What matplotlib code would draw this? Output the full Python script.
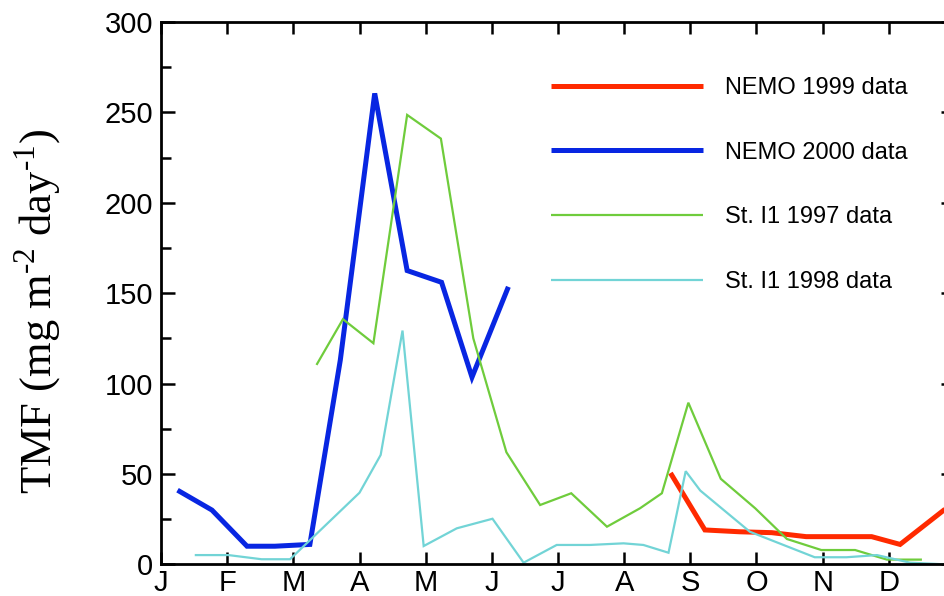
import matplotlib
matplotlib.use("Agg")
import matplotlib.pyplot as plt
from matplotlib.ticker import MultipleLocator

plt.rcParams["mathtext.fontset"] = "custom"
plt.rcParams["mathtext.rm"] = "Liberation Serif"

# Month axis: 0 = start of January, 12 = end of December
month_labels = ["J", "F", "M", "A", "M", "J", "J", "A", "S", "O", "N", "D", ""]

# NEMO 1999 trap data (Aug-Dec)
nemo99_t = [7.70, 8.22, 8.74, 9.23, 9.75, 10.25, 10.74, 11.17, 11.85]
nemo99_v = [50.5, 19.0, 18.0, 17.5, 15.3, 15.3, 15.3, 11.0, 30.5]

# NEMO 2000 trap data (Jan-Jun)
nemo00_t = [0.25, 0.77, 1.30, 1.72, 2.25, 2.71, 3.23, 3.72, 4.24, 4.70, 5.25]
nemo00_v = [41.0, 30.0, 10.0, 10.0, 11.0, 113.0, 260.5, 162.5, 156.0, 103.5, 153.5]

# Station I1, 1997
st97_t = [2.35, 2.75, 3.21, 3.72, 4.23, 4.72, 5.22, 5.73, 6.20, 6.74,
          7.24, 7.57, 7.97, 8.46, 8.98, 9.46, 9.98, 10.49, 10.97, 11.50]
st97_v = [110.3, 135.6, 122.3, 248.6, 235.5, 125.0, 62.0, 32.8, 39.3, 20.8,
          31.0, 39.3, 89.4, 47.3, 31.0, 14.0, 7.9, 7.9, 2.6, 2.6]

# Station I1, 1998
st98_t = [0.51, 1.02, 1.52, 1.95, 3.00, 3.32, 3.65, 3.97, 4.47, 5.01, 5.48, 5.98,
          6.48, 6.99, 7.29, 7.67, 7.93, 8.15, 8.90, 9.88, 10.36, 10.82, 11.32, 11.83]
st98_v = [5.1, 5.1, 2.8, 2.8, 39.6, 60.5, 129.3, 10.1, 19.9, 25.2, 0.9, 10.7,
          10.7, 11.6, 10.7, 6.4, 51.5, 40.8, 18.0, 3.9, 3.9, 5.1, 0.9, 0.0]

RED = "#ff2a00"
BLUE = "#0826e2"
GREEN = "#6fcc3c"
CYAN = "#72d4d6"

W, H = 944, 596
fig = plt.figure(figsize=(W / 100, H / 100), dpi=100)
left, right, top, bottom = 161, 955, 22, 564.3
ax = fig.add_axes([left / W, 1 - bottom / H, (right - left) / W, (bottom - top) / H])

line_kw = dict(solid_joinstyle="miter", solid_capstyle="butt")
ax.plot(nemo99_t, nemo99_v, color=RED, lw=3.6, label="NEMO 1999 data", **line_kw)
ax.plot(nemo00_t, nemo00_v, color=BLUE, lw=3.6, label="NEMO 2000 data", **line_kw)
ax.plot(st97_t, st97_v, color=GREEN, lw=1.6, label="St. I1 1997 data", **line_kw)
ax.plot(st98_t, st98_v, color=CYAN, lw=1.6, label="St. I1 1998 data", **line_kw)

ax.set_xlim(0, 12)
ax.set_ylim(0, 300)
ax.set_xticks(range(13))
ax.set_xticklabels(month_labels)
ax.yaxis.set_major_locator(MultipleLocator(50))
ax.yaxis.set_minor_locator(MultipleLocator(25))

tick_font = "Liberation Sans"
ax.tick_params(axis="both", which="both", direction="in", top=True, right=True,
               width=1.8, color="black")
ax.tick_params(axis="x", which="major", length=8.6, pad=3.5, labelsize=21)
ax.tick_params(axis="y", which="major", length=10.0, pad=5.5, labelsize=21)
ax.tick_params(axis="y", which="minor", length=7.0)
for lbl in ax.get_xticklabels() + ax.get_yticklabels():
    lbl.set_fontfamily(tick_font)
for sp in ax.spines.values():
    sp.set_linewidth(2.0)

fig.text(38 / W, 1 - 311 / H, "TMF (mg m$^{\\mathregular{\u2010 2}}$ day$^{\\mathregular{\u2010 1}}$)",
         rotation=90, ha="center", va="center", fontsize=32,
         family="Liberation Serif")

leg = ax.legend(loc="upper left", bbox_to_anchor=(551 / W, 1 - 77 / H),
                bbox_transform=fig.transFigure, frameon=False,
                prop={"family": tick_font, "size": 17},
                handlelength=6.44, handletextpad=0.93, labelspacing=1.81,
                borderpad=0, borderaxespad=0)

fig.savefig("out.png", dpi=100)
